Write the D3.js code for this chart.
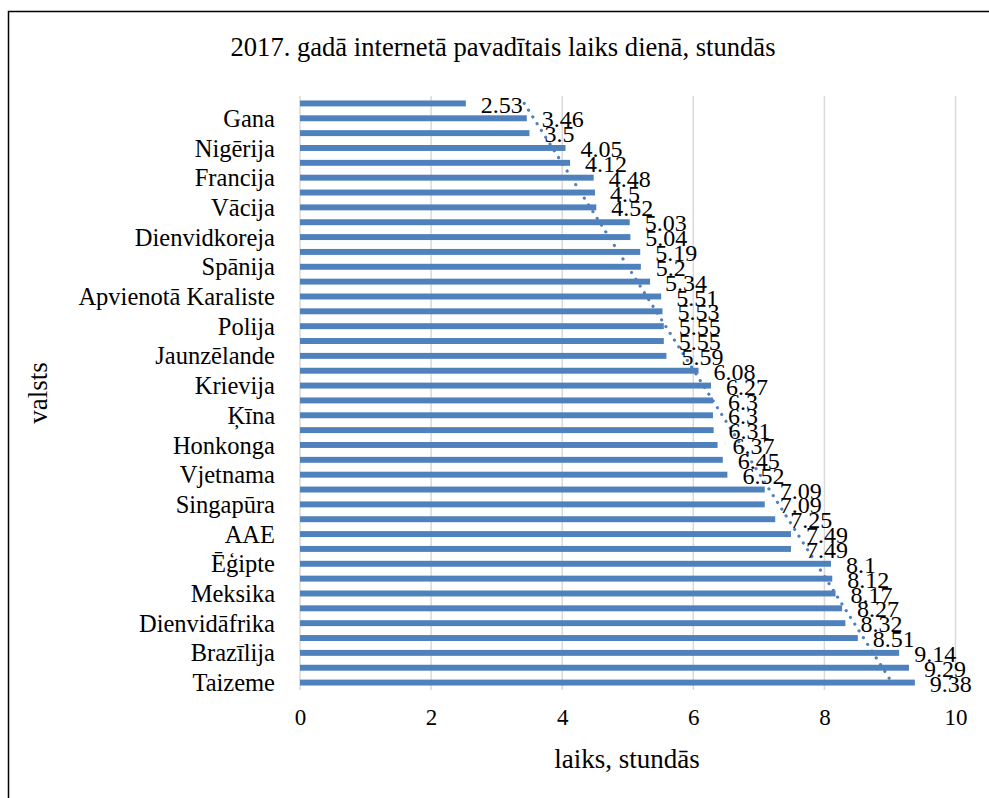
<!DOCTYPE html>
<html>
<head>
<meta charset="utf-8">
<script src="https://cdn.jsdelivr.net/npm/d3@7"></script>
<style>
  html, body { margin: 0; padding: 0; background: #fff; }
  svg { display: block; }
  text { font-family: "Liberation Serif", "Times New Roman", serif; fill: #000; }
</style>
</head>
<body>
<svg id="chart" width="989" height="798"></svg>
<script>
// Countries, top to bottom (every other one gets a visible axis label)
const countries = [
  "Japāna", "Gana", "Itālija", "Nigērija", "Nīderlande", "Francija", "Kanāda", "Vācija",
  "Austrālija", "Dienvidkoreja", "ASV", "Spānija", "Īrija", "Apvienotā Karaliste", "Indija", "Polija",
  "Beļģija", "Jaunzēlande", "Taivāna", "Krievija", "Portugāle", "Ķīna", "Kenija", "Honkonga",
  "Zviedrija", "Vjetnama", "Izraēla", "Singapūra", "Saūda Arābija", "AAE", "Turcija", "Ēģipte",
  "Indonēzija", "Meksika", "Malaizija", "Dienvidāfrika", "Argentīna", "Brazīlija", "Filipīnas", "Taizeme"
];
// Time spent online per day, hours
const hours = [
  2.53, 3.46, 3.5, 4.05, 4.12, 4.48, 4.5, 4.52,
  5.03, 5.04, 5.19, 5.2, 5.34, 5.51, 5.53, 5.55,
  5.55, 5.59, 6.08, 6.27, 6.3, 6.3, 6.31, 6.37,
  6.45, 6.52, 7.09, 7.09, 7.25, 7.49, 7.49, 8.1,
  8.12, 8.17, 8.27, 8.32, 8.51, 9.14, 9.29, 9.38
];
const xTicks = [0, 2, 4, 6, 8, 10];

const titleText = "2017. gadā internetā pavadītais laiks dienā, stundās";
const xTitle = "laiks, stundās";
const yTitle = "valsts";

(function () {
const data = countries.map((c, i) => ({ country: c, value: hours[i], idx: i + 1 }));

const svg = d3.select("#chart");
const plotLeft = 300, plotRight = 955.5, plotTop = 96, plotBottom = 690;

const x = d3.scaleLinear().domain([0, 10]).range([plotLeft, plotRight]);
const y = d3.scaleBand().domain(countries).range([plotTop, plotBottom]).paddingInner(0.6).paddingOuter(0.3);

// outer frame
svg.append("rect")
  .attr("x", 8.5).attr("y", 11.5)
  .attr("width", 1000).attr("height", 800)
  .attr("fill", "none").attr("stroke", "#000").attr("stroke-width", 1.5);

// title
svg.append("text")
  .attr("x", 503).attr("y", 56)
  .attr("text-anchor", "middle")
  .style("font-size", "26.6px")
  .text(titleText);

// vertical gridlines
svg.append("g")
  .selectAll("line")
  .data(xTicks)
  .join("line")
  .attr("x1", d => x(d)).attr("x2", d => x(d))
  .attr("y1", plotTop).attr("y2", plotBottom)
  .attr("stroke", "#d9d9d9").attr("stroke-width", 1.5);

// x axis tick labels
const xAxis = d3.axisBottom(x).tickValues(xTicks).tickSize(0).tickPadding(0).tickFormat(d3.format("d"));
const gx = svg.append("g").attr("transform", `translate(0,${plotBottom + 19})`).call(xAxis);
gx.select(".domain").remove();
gx.selectAll("text").style("font-size", "23px").style("font-family", "Liberation Serif, serif").attr("dy", "0.71em");

// y axis labels, every other category
const yAxis = d3.axisLeft(y)
  .tickValues(countries.filter((c, i) => i % 2 === 1))
  .tickSize(0).tickPadding(0);
const gy = svg.append("g").attr("transform", `translate(${plotLeft - 25},0)`).call(yAxis);
gy.select(".domain").remove();
gy.selectAll("text").style("font-size", "24.5px").style("font-family", "Liberation Serif, serif").attr("dy", "0.35em");

// bars
svg.append("g")
  .selectAll("rect")
  .data(data)
  .join("rect")
  .attr("x", x(0))
  .attr("y", d => y(d.country))
  .attr("width", d => x(d.value) - x(0))
  .attr("height", y.bandwidth())
  .attr("fill", "#4f81bd");

// linear trendline over category index
const n = data.length;
const mx = d3.mean(data, d => d.idx);
const my = d3.mean(data, d => d.value);
const slope = d3.sum(data, d => (d.idx - mx) * (d.value - my)) / d3.sum(data, d => (d.idx - mx) ** 2);
const icpt = my - slope * mx;
const trendAt = i => icpt + slope * i;
const first = data[0], last = data[n - 1];
svg.append("line")
  .attr("x1", x(trendAt(first.idx))).attr("y1", y(first.country) + y.bandwidth() / 2)
  .attr("x2", x(trendAt(last.idx))).attr("y2", y(last.country) + y.bandwidth() / 2)
  .attr("stroke", "#4f81bd").attr("stroke-width", 3.2)
  .attr("stroke-linecap", "round")
  .attr("stroke-dasharray", "0.01 8");

// value labels
svg.append("g")
  .selectAll("text")
  .data(data)
  .join("text")
  .attr("x", d => x(d.value) + 15)
  .attr("y", d => y(d.country) + y.bandwidth() / 2)
  .attr("dy", "0.38em")
  .style("font-size", "24px")
  .text(d => String(d.value));

// axis titles
svg.append("text")
  .attr("x", 627).attr("y", 768)
  .attr("text-anchor", "middle")
  .style("font-size", "27px")
  .text(xTitle);

svg.append("text")
  .attr("transform", `translate(47,393) rotate(-90)`)
  .attr("text-anchor", "middle")
  .style("font-size", "27px")
  .text(yTitle);
})();
</script>
</body>
</html>
